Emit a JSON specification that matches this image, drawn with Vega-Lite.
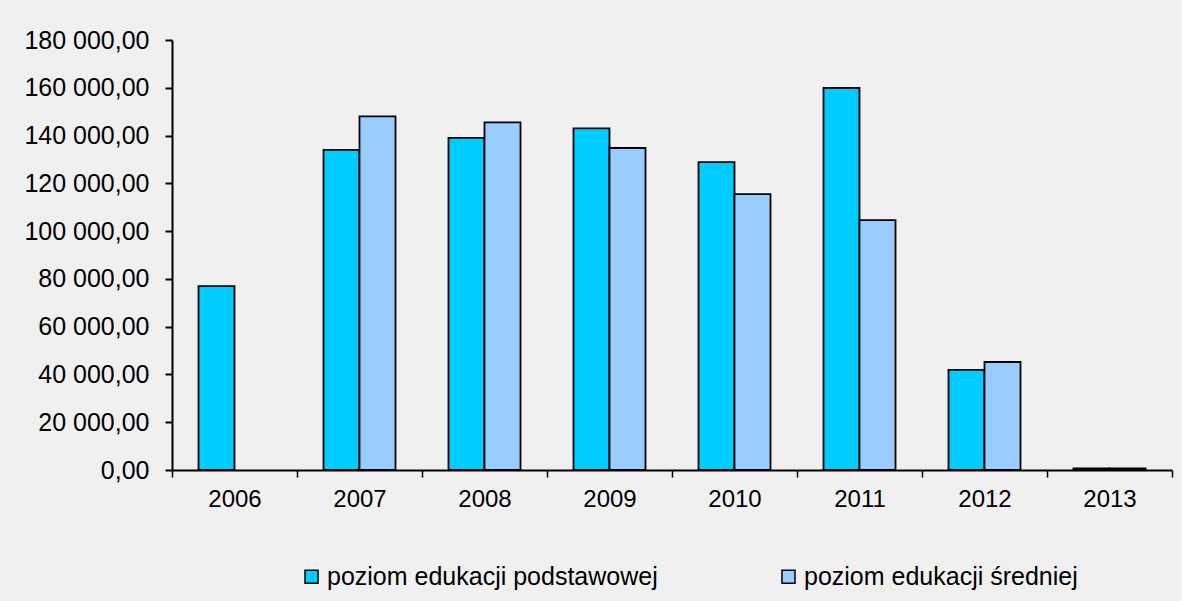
{
  "$schema": "https://vega.github.io/schema/vega-lite/v6.json",
  "width": 1000,
  "height": 430,
  "autosize": {"type": "none"},
  "padding": {"left": 172, "top": 40, "right": 10, "bottom": 131},
  "background": "#f0f0f0",
  "config": {
    "view": {"stroke": null},
    "locale": {"number": {"decimal": ",", "thousands": " ", "grouping": [3], "currency": ["", ""]}},
    "font": "Liberation Sans"
  },
  "data": {
    "values": [
      {"rok": "2006", "seria": "poziom edukacji podstawowej", "wartosc": 77000},
      {"rok": "2007", "seria": "poziom edukacji podstawowej", "wartosc": 134000},
      {"rok": "2007", "seria": "poziom edukacji średniej", "wartosc": 148000},
      {"rok": "2008", "seria": "poziom edukacji podstawowej", "wartosc": 139000},
      {"rok": "2008", "seria": "poziom edukacji średniej", "wartosc": 145500},
      {"rok": "2009", "seria": "poziom edukacji podstawowej", "wartosc": 143000},
      {"rok": "2009", "seria": "poziom edukacji średniej", "wartosc": 134800},
      {"rok": "2010", "seria": "poziom edukacji podstawowej", "wartosc": 128900},
      {"rok": "2010", "seria": "poziom edukacji średniej", "wartosc": 115500},
      {"rok": "2011", "seria": "poziom edukacji podstawowej", "wartosc": 159900},
      {"rok": "2011", "seria": "poziom edukacji średniej", "wartosc": 104600},
      {"rok": "2012", "seria": "poziom edukacji podstawowej", "wartosc": 41900},
      {"rok": "2012", "seria": "poziom edukacji średniej", "wartosc": 45200},
      {"rok": "2013", "seria": "poziom edukacji podstawowej", "wartosc": 700},
      {"rok": "2013", "seria": "poziom edukacji średniej", "wartosc": 700}
    ]
  },
  "mark": {"type": "bar", "stroke": "#000000", "strokeWidth": 1.8},
  "encoding": {
    "x": {
      "field": "rok",
      "type": "nominal",
      "scale": {"paddingInner": 0, "paddingOuter": 0},
      "axis": {
        "title": null,
        "labelAngle": 0,
        "labelFontSize": 24,
        "labelColor": "#000000",
        "labelPadding": 10,
        "tickBand": "extent",
        "tickSize": 7,
        "tickColor": "#000000",
        "tickWidth": 1.5,
        "domainColor": "#000000",
        "domainWidth": 2
      }
    },
    "xOffset": {
      "field": "seria",
      "type": "nominal",
      "scale": {"domain": ["poziom edukacji podstawowej", "poziom edukacji średniej"], "paddingInner": 0, "paddingOuter": 0.736}
    },
    "y": {
      "field": "wartosc",
      "type": "quantitative",
      "scale": {"domain": [0, 180000], "nice": false},
      "axis": {
        "title": null,
        "values": [0, 20000, 40000, 60000, 80000, 100000, 120000, 140000, 160000, 180000],
        "format": ",.2f",
        "grid": false,
        "labelFontSize": 25,
        "labelColor": "#000000",
        "labelPadding": 16,
        "tickSize": 7,
        "tickColor": "#000000",
        "tickWidth": 2,
        "domainColor": "#000000",
        "domainWidth": 2
      }
    },
    "fill": {
      "field": "seria",
      "type": "nominal",
      "scale": {
        "domain": ["poziom edukacji podstawowej", "poziom edukacji średniej"],
        "range": ["#00ccff", "#99ccff"]
      },
      "legend": {
        "title": null,
        "orient": "none",
        "direction": "horizontal",
        "legendX": 127,
        "legendY": 524,
        "symbolType": "square",
        "symbolSize": 170,
        "symbolStrokeColor": "#000000",
        "symbolStrokeWidth": 1.5,
        "labelFontSize": 25,
        "labelColor": "#000000",
        "labelOffset": 3,
        "labelLimit": 500,
        "columnPadding": 118
      }
    }
  }
}
